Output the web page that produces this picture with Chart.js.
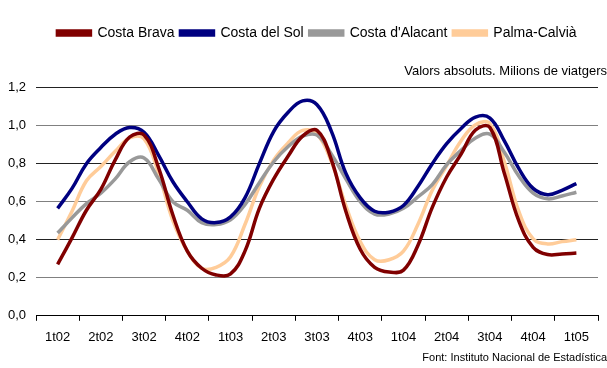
<!DOCTYPE html>
<html>
<head>
<meta charset="utf-8">
<script src="https://cdn.jsdelivr.net/npm/chart.js@4.4.0/dist/chart.umd.min.js"></script>
<style>
html, body { margin: 0; padding: 0; background: #fff; }
#wrap { width: 607px; height: 368px; }
</style>
</head>
<body>
<div id="wrap"><canvas id="myChart"></canvas></div>
<script>
// quarter labels, one every 3 months
var quarters = ['1t02', '2t02', '3t02', '4t02', '1t03', '2t03', '3t03', '4t03', '1t04', '2t04', '3t04', '4t04', '1t05'];

// monthly values, millions of travellers
var costaBrava = [0.27, 0.41, 0.555, 0.665, 0.82, 0.94, 0.95, 0.78, 0.53, 0.34, 0.25, 0.215, 0.22,
    0.34, 0.565, 0.72, 0.84, 0.945, 0.975, 0.82, 0.55, 0.35, 0.255, 0.23, 0.24,
    0.37, 0.57, 0.73, 0.85, 0.977, 0.99, 0.75, 0.50, 0.36, 0.322, 0.325, 0.33];
var costaDelSol = [0.565, 0.67, 0.80, 0.885, 0.955, 0.99, 0.965, 0.845, 0.705, 0.60, 0.51, 0.49, 0.52,
    0.62, 0.80, 0.97, 1.07, 1.13, 1.11, 0.97, 0.75, 0.62, 0.55, 0.545, 0.58,
    0.68, 0.80, 0.905, 0.985, 1.045, 1.04, 0.92, 0.775, 0.67, 0.637, 0.66, 0.695];
var costaAlacant = [0.435, 0.515, 0.59, 0.645, 0.72, 0.81, 0.83, 0.72, 0.60, 0.555, 0.49, 0.48, 0.505,
    0.585, 0.70, 0.81, 0.89, 0.945, 0.95, 0.85, 0.72, 0.60, 0.535, 0.535, 0.565,
    0.625, 0.69, 0.795, 0.87, 0.935, 0.955, 0.86, 0.735, 0.645, 0.615, 0.63, 0.65];
var palmaCalvia = [0.40, 0.55, 0.71, 0.785, 0.865, 0.935, 0.93, 0.75, 0.50, 0.34, 0.25, 0.255, 0.31,
    0.48, 0.68, 0.82, 0.91, 0.975, 0.955, 0.81, 0.58, 0.39, 0.295, 0.295, 0.34,
    0.48, 0.66, 0.79, 0.92, 1.005, 1.01, 0.81, 0.55, 0.405, 0.378, 0.39, 0.40];

var months = costaBrava.map(function (v, i) { return i; });

function serie(label, data, color) {
    return {
        label: label,
        data: data,
        borderColor: color,
        backgroundColor: color,
        borderWidth: 3.5,
        pointRadius: 0,
        tension: 0.4,
        fill: false
    };
}

var font = "'Liberation Sans', Arial, sans-serif";

var ctx = document.getElementById('myChart').getContext('2d');

var config = {
    type: 'line',
    data: {
        labels: months,
        datasets: [
            serie('Costa Brava', costaBrava, '#800000'),
            serie('Costa del Sol', costaDelSol, '#000080'),
            serie("Costa d'Alacant", costaAlacant, '#999999'),
            serie('Palma-Calvià', palmaCalvia, '#FFCC99')
        ]
    },
    options: {
        responsive: true,
        maintainAspectRatio: false,
        animation: false,
        layout: { padding: { top: 20, left: 0, right: 0, bottom: 0 } },
        plugins: {
            legend: {
                position: 'top',
                fullSize: false,
                weight: 3000,
                labels: {
                    boxWidth: 33,
                    boxHeight: 4,
                    padding: 6,
                    color: '#000',
                    font: { family: font, size: 14 }
                }
            },
            subtitle: {
                display: true,
                text: 'Valors absoluts. Milions de viatgers',
                align: 'end',
                color: '#000',
                font: { family: font, size: 13 },
                padding: { top: 14, bottom: 8 }
            },
            title: {
                display: true,
                position: 'bottom',
                align: 'end',
                text: 'Font: Instituto Nacional de Estadística',
                color: '#000',
                font: { family: font, size: 11, weight: 'normal' },
                padding: { top: 0, bottom: 3 }
            },
            tooltip: { enabled: false }
        },
        scales: {
            x: {
                type: 'linear',
                min: -1.5,
                max: months.length + 0.5,
                afterBuildTicks: function (scale) {
                    var t = [];
                    for (var j = 0; j <= quarters.length; j++) {
                        t.push({ value: j * 3 - 1.5 });
                        if (j < quarters.length) t.push({ value: j * 3 });
                    }
                    scale.ticks = t;
                },
                afterFit: function (scale) { scale.height = 36; },
                ticks: {
                    autoSkip: false,
                    maxRotation: 0,
                    padding: 9,
                    color: '#000',
                    font: { family: font, size: 13 },
                    callback: function (value) {
                        return value % 3 === 0 ? quarters[value / 3] : '';
                    }
                },
                grid: {
                    drawOnChartArea: false,
                    drawTicks: true,
                    tickLength: 5,
                    tickColor: function (c) {
                        return c.tick && c.tick.value % 3 !== 0 ? '#000' : 'rgba(0,0,0,0)';
                    }
                },
                border: { display: true, color: '#000', width: 1 }
            },
            y: {
                min: 0,
                max: 1.2,
                afterFit: function (scale) { scale.width = 36; },
                ticks: {
                    stepSize: 0.2,
                    padding: 10,
                    color: '#000',
                    font: { family: font, size: 13 },
                    callback: function (value) {
                        return value.toFixed(1).replace('.', ',');
                    }
                },
                grid: {
                    drawTicks: false,
                    color: function (c) {
                        return c.index % 2 === 0 ? '#222' : '#808080';
                    }
                },
                border: { display: false }
            }
        }
    }
};

var myChart = new Chart(ctx, config);
</script>
</body>
</html>
